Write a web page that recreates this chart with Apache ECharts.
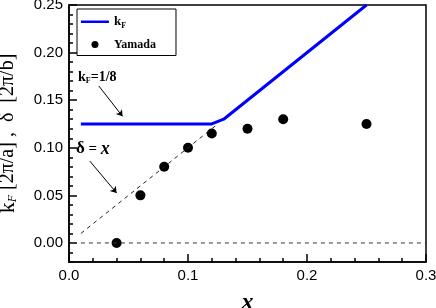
<!DOCTYPE html>
<html><head><meta charset="utf-8">
<script src="https://cdn.jsdelivr.net/npm/echarts@6/dist/echarts.min.js"></script>
<style>html,body{margin:0;padding:0;background:#fff}#c{width:436px;height:308px}</style>
</head><body><div id="c"></div>
<script>
const kfX = [0.01, 0.12, 0.13, 0.25];
const kfY = [0.125, 0.125, 0.13, 0.25];
const yamadaX = [0.04, 0.06, 0.08, 0.10, 0.12, 0.15, 0.18, 0.25];
const yamadaY = [0.0, 0.05, 0.08, 0.10, 0.115, 0.12, 0.13, 0.125];
const deltaX = [0.01, 0.125];
const deltaY = [0.01, 0.125];
const zeroX = [0.01, 0.3];
const zeroY = [0, 0];
const yMajorTicks = [0, 0.05, 0.10, 0.15, 0.20, 0.25];
const xTickLabels = ['0.0', '0.1', '0.2', '0.3'];
const arrowKf = [[0.025, 0.165], [0.045, 0.133]];
const arrowDelta = [[0.0175, 0.086], [0.040, 0.0525]];

const zip = (a, b) => a.map((v, i) => [v, b[i]]);
const serif = 'Liberation Serif';
const sans = 'Liberation Sans';
const lineIcon = 'path://M0,0h0.01v0.01h-0.01z M0,2.5h28v2.5H0z M0,7h0.01v0.01h-0.01z';

const chart = echarts.init(document.getElementById('c'));
chart.setOption({
  animation: false,
  backgroundColor: '#fff',
  grid: { left: 69, right: 10, top: 5, bottom: 46, outerBoundsMode: 'none', containLabel: false,
    show: true, borderColor: '#000', borderWidth: 1.5, backgroundColor: 'transparent' },
  legend: {
    data: [{ name: 'kF', icon: lineIcon }, { name: 'Yamada', icon: 'circle' }],
    orient: 'vertical', left: 77, top: 9,
    borderColor: '#000', borderWidth: 1, padding: [6, 20, 5, 4],
    itemWidth: 28, itemHeight: 7, itemGap: 9,
    textStyle: { fontFamily: serif, fontWeight: 'bold', fontSize: 12, color: '#000',
      rich: { k: { fontFamily: serif, fontWeight: 'bold', fontSize: 13, color: '#000' },
              s: { fontFamily: serif, fontWeight: 'bold', fontSize: 8, color: '#000', padding: [8, 0, 0, 0] } } },
    formatter: n => n === 'kF' ? '{k|k}{s|F}' : n
  },
  xAxis: {
    type: 'value', min: 0, max: 0.3, interval: 0.1,
    name: 'x', nameLocation: 'middle', nameGap: 29, nameMoveOverlap: false,
    nameTextStyle: { fontFamily: serif, fontStyle: 'italic', fontWeight: 'bold', fontSize: 24, color: '#000' },
    axisLine: { show: true, onZero: false, lineStyle: { color: '#000', width: 1.5 } },
    axisTick: { show: true, inside: true, length: 8, lineStyle: { color: '#000', width: 1.5 } },
    minorTick: { show: true, splitNumber: 5, length: 4, lineStyle: { color: '#000', width: 1.5 } },
    splitLine: { show: false },
    axisLabel: { fontFamily: sans, fontSize: 15, color: '#000', margin: 6,
      formatter: v => xTickLabels[Math.round(v * 10)] }
  },
  yAxis: [{
    type: 'value', min: -0.02, max: 0.25, interval: 0.01,
    name: '{k|k}{s|F}{t| [2π/a] ,  δ  [2π/b]}', nameLocation: 'middle', nameGap: 50, nameMoveOverlap: false,
    nameTextStyle: { rich: {
      k: { fontFamily: serif, fontSize: 22, color: '#000' },
      s: { fontFamily: serif, fontStyle: 'italic', fontSize: 12, color: '#000', padding: [10, 0, 0, 0] },
      t: { fontFamily: serif, fontSize: 20, color: '#000' } } },
    axisLine: { show: true, onZero: false, lineStyle: { color: '#000', width: 1.5 } },
    axisTick: { show: true, inside: true, length: 4, lineStyle: { color: '#000', width: 1.5 } },
    splitLine: { show: false },
    axisLabel: { fontFamily: sans, fontSize: 15, color: '#000', margin: 6,
      formatter: v => { const r = Math.round(v * 20); return (Math.abs(v * 20 - r) < 1e-6 && v > -1e-9) ? (r / 20).toFixed(2) : ''; } }
  }, {
    type: 'value', min: -0.02, max: 0.25, position: 'left', offset: 0,
    axisLine: { show: false, onZero: false },
    axisTick: { show: true, inside: true, length: 8, customValues: yMajorTicks, lineStyle: { color: '#000', width: 1.5 } },
    axisLabel: { show: false },
    splitLine: { show: false }
  }],
  series: [
    { name: 'zero', type: 'line', data: zip(zeroX, zeroY), symbol: 'none', silent: true,
      lineStyle: { color: '#333', width: 1, type: [4, 4] } },
    { name: 'delta', type: 'line', data: zip(deltaX, deltaY), symbol: 'none', silent: true,
      lineStyle: { color: '#222', width: 1, type: [4, 4] },
      markLine: { silent: true, symbol: ['none', 'arrow'], symbolSize: 6, label: { show: false },
        lineStyle: { color: '#000', width: 1, type: 'solid' },
        data: [
          [{ coord: arrowKf[0] }, { coord: arrowKf[1] }],
          [{ coord: arrowDelta[0] }, { coord: arrowDelta[1] }]
        ] } },
    { name: 'kF', type: 'line', data: zip(kfX, kfY), symbol: 'none',
      lineStyle: { color: '#0000ff', width: 3 }, itemStyle: { color: '#0000ff' } },
    { name: 'Yamada', type: 'scatter', data: zip(yamadaX, yamadaY), symbol: 'circle', symbolSize: 10,
      itemStyle: { color: '#000', opacity: 1 } }
  ],
  graphic: [
    { type: 'text', left: 78, top: 70, style: {
      text: '{k|k}{s|F}{t|=1/8}',
      rich: { k: { fontFamily: serif, fontWeight: 'bold', fontSize: 14, fill: '#000' },
              s: { fontFamily: serif, fontWeight: 'bold', fontSize: 8, fill: '#000', padding: [8, 0, 0, 0] },
              t: { fontFamily: serif, fontWeight: 'bold', fontSize: 14, fill: '#000' } } } },
    { type: 'text', left: 76, top: 140, style: {
      text: '{d|δ}{e| = }{x|x}',
      rich: { d: { fontFamily: serif, fontWeight: 'bold', fontSize: 17, fill: '#000' },
              e: { fontFamily: serif, fontWeight: 'bold', fontSize: 15, fill: '#000' },
              x: { fontFamily: serif, fontWeight: 'bold', fontStyle: 'italic', fontSize: 18, fill: '#000' } } } }
  ]
});
</script></body></html>
